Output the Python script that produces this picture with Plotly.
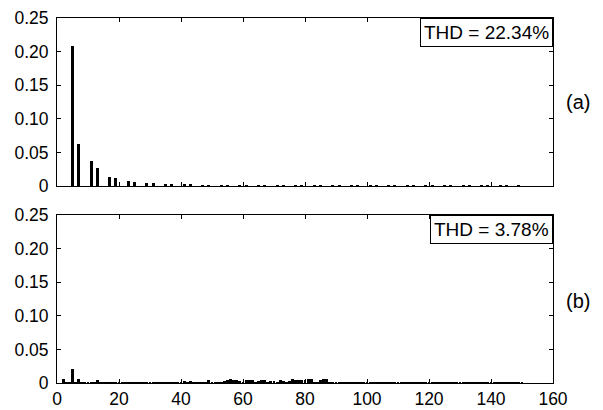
import plotly.graph_objects as go
from plotly.subplots import make_subplots

# Panel (a): harmonic orders and magnitudes
harm_a = [5, 7, 11, 13, 17, 19, 23, 25, 29, 31, 35, 37, 41, 43, 47, 49, 53, 55,
          59, 61, 65, 67, 71, 73, 77, 79, 83, 85, 89, 91, 95, 97, 101, 103, 107,
          109, 113, 115, 119, 121, 125, 127, 131, 133, 137, 139, 143, 145, 149]
mag_a = [0.209, 0.062, 0.038, 0.027, 0.013, 0.012, 0.008, 0.006, 0.0045, 0.004,
         0.003, 0.003, 0.003, 0.0025, 0.002, 0.002, 0.002, 0.002, 0.0015, 0.0015,
         0.0013, 0.0013, 0.0012, 0.0012, 0.0011, 0.0011, 0.001, 0.001, 0.001, 0.001,
         0.0009, 0.0009, 0.0009, 0.0009, 0.0009, 0.0009, 0.0008, 0.0008, 0.0008,
         0.0008, 0.0008, 0.0008, 0.0008, 0.0008, 0.0008, 0.0008, 0.0008, 0.0008, 0.0008]

# Panel (b): harmonic orders 1..150 and magnitudes
harm_b = list(range(1, 151))
mag_b = [0.0, 0.0065, 0.002, 0.002, 0.0214, 0.002, 0.006, 0.002, 0.0015, 0.0015,
         0.0015, 0.0015, 0.005, 0.0015, 0.001, 0.001, 0.001, 0.001, 0.001, 0.001,
         0.0015, 0.001, 0.001, 0.0015, 0.0015, 0.001, 0.001, 0.001, 0.002, 0.0015,
         0.002, 0.0015, 0.0015, 0.001, 0.002, 0.0015, 0.0015, 0.001, 0.0015, 0.001,
         0.0025, 0.002, 0.0025, 0.001, 0.001, 0.001, 0.0015, 0.002, 0.004, 0.001,
         0.001, 0.001, 0.0015, 0.003, 0.0045, 0.0065, 0.005, 0.004, 0.003, 0.002,
         0.005, 0.004, 0.0045, 0.002, 0.0035, 0.005, 0.0045, 0.002, 0.0035, 0.0035,
         0.002, 0.004, 0.0035, 0.002, 0.0035, 0.006, 0.0045, 0.0045, 0.004, 0.005,
         0.0055, 0.006, 0.002, 0.001, 0.0045, 0.0055, 0.006, 0.002, 0.001, 0.001,
         0.001, 0.001, 0.0008, 0.0008, 0.0008, 0.0008, 0.0008, 0.0015, 0.0008, 0.0008,
         0.0008, 0.0008, 0.0008, 0.0008, 0.0008, 0.0008, 0.0008, 0.0008, 0.0008, 0.0008,
         0.0008, 0.0008, 0.0008, 0.0008, 0.0008, 0.0008, 0.0008, 0.0008, 0.0008, 0.0015,
         0.0008, 0.0008, 0.0008, 0.0008, 0.0008, 0.0008, 0.0008, 0.0008, 0.0008, 0.0008,
         0.0008, 0.0008, 0.0008, 0.0008, 0.0008, 0.0008, 0.0008, 0.0008, 0.0008, 0.0015,
         0.0008, 0.0008, 0.0008, 0.0008, 0.0008, 0.0008, 0.0008, 0.0008, 0.0008, 0.0008]

y_ticks = [0, 0.05, 0.10, 0.15, 0.20, 0.25]
y_labels = ["0", "0.05", "0.10", "0.15", "0.20", "0.25"]
x_ticks = [0, 20, 40, 60, 80, 100, 120, 140, 160]
thd_a = "THD = 22.34%"
thd_b = "THD = 3.78%"

FAM = "Liberation Sans, Arial, sans-serif"
font = dict(family=FAM, size=17.5, color="black")

fig = make_subplots(rows=2, cols=1, vertical_spacing=0.079)
fig.add_trace(go.Bar(x=harm_a, y=mag_a, width=0.95, marker=dict(color="black", line=dict(width=0))), row=1, col=1)
fig.add_trace(go.Bar(x=harm_b, y=mag_b, width=0.95, marker=dict(color="black", line=dict(width=0))), row=2, col=1)

axcommon = dict(showline=True, linecolor="black", linewidth=1, mirror="ticks",
                ticks="inside", ticklen=4, tickcolor="black", showgrid=False,
                zeroline=False, tickfont=font, automargin=False,
                ticklabeloverflow="allow")
for r in (1, 2):
    fig.update_xaxes(range=[0, 160], tickvals=x_ticks, row=r, col=1, **axcommon)
    fig.update_yaxes(range=[0, 0.25], tickvals=y_ticks, ticktext=y_labels,
                     ticklabelstandoff=4, row=r, col=1, **axcommon)
fig.update_xaxes(showticklabels=False, row=1, col=1)

box_font = dict(family=FAM, size=19, color="black")
lab_font = dict(family=FAM, size=20, color="black")
fig.update_layout(
    width=595, height=402,
    margin=dict(l=49, r=50, t=10, b=27),
    paper_bgcolor="white", plot_bgcolor="white",
    showlegend=False, bargap=0,
    font=font,
    annotations=[
        dict(text=thd_a, xref="x domain", yref="y domain", x=1, y=1, xanchor="right", yanchor="top",
             showarrow=False, bordercolor="black", borderwidth=1, borderpad=3, bgcolor="white",
             font=box_font),
        dict(text=thd_b, xref="x2 domain", yref="y2 domain", x=1, y=1, xanchor="right", yanchor="top",
             showarrow=False, bordercolor="black", borderwidth=1, borderpad=3, bgcolor="white",
             font=box_font),
        dict(text="(a)", xref="paper", yref="y domain", x=1.022, y=0.50, xanchor="left", yanchor="middle",
             showarrow=False, font=lab_font),
        dict(text="(b)", xref="paper", yref="y2 domain", x=1.022, y=0.485, xanchor="left", yanchor="middle",
             showarrow=False, font=lab_font),
    ],
)

fig.write_html("out.html")
